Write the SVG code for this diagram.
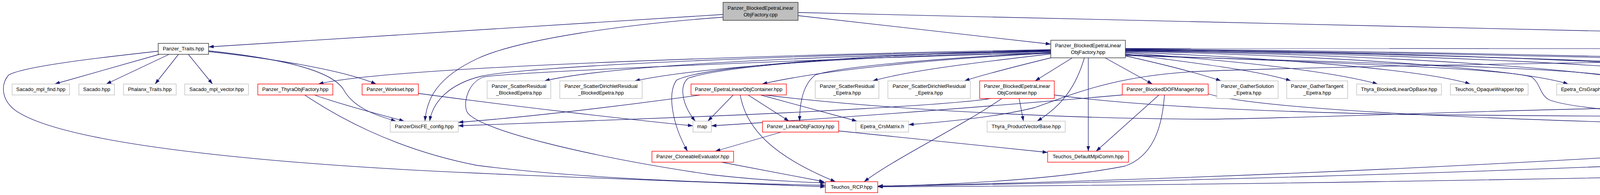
<svg xmlns="http://www.w3.org/2000/svg" width="7378" height="499" viewBox="0 0 7378 499">
<defs>
<marker id="a" markerWidth="13" markerHeight="9" refX="13" refY="4.5" orient="auto" markerUnits="userSpaceOnUse"><path d="M0,0 L13,4.5 L0,9 z" fill="#191970"/></marker>
</defs>
<style>
.n rect{fill:#fff;stroke-width:1.4}
.g rect{stroke:#bfbfbf}
.r rect{stroke:#ff0000}
.k rect{stroke:#333}
.root rect{fill:#bfbfbf;stroke:#333}
text{font-family:"Liberation Sans",Arial,Helvetica,sans-serif;font-size:13px;fill:#000;text-anchor:middle}
text.l{text-anchor:start}
#edges path{fill:none;stroke:#191970;stroke-width:1.3;marker-end:url(#a)}
</style>
<rect x="0" y="0" width="7378" height="499" fill="#fff"/>
<g id="edges">
<path d="M1851,37 L534,120"/>
<path d="M1851,44 C1600,62 1330,100 1222,150 C1122,197 1092,250 1088,310"/>
<path d="M2043,40 L2690,113"/>
<path d="M2043,32 L5936,122"/>
<path d="M408,139 L140,215"/>
<path d="M433,139 L272,215"/>
<path d="M457,139 L397,215"/>
<path d="M482,139 L544,215"/>
<path d="M534,132 C700,150 880,180 963,215"/>
<path d="M534,130 C720,150 850,180 880,230 C905,275 960,295 1014,310"/>
<path d="M405,131 C250,148 60,170 22,192 C2,215 2,255 40,283 C180,380 800,425 1220,443 C1550,458 1900,472 2113,478"/>
<path d="M805,243 C880,270 980,295 1035,310"/>
<path d="M780,243 C850,290 1000,380 1220,423 C1500,460 1900,470 2113,474"/>
<path d="M2690,127 C2000,140 1000,170 815,215"/>
<path d="M2690,130 C2000,140 1350,170 1232,195 C1150,215 1108,260 1100,310"/>
<path d="M2690,135 C2100,150 1300,185 1238,197 C1200,210 1185,260 1195,285 C1215,330 1500,400 1820,447 C1950,462 2050,466 2113,468"/>
<path d="M2690,131 C2000,145 1550,170 1394,207"/>
<path d="M2690,132 C2200,145 1800,170 1625,207"/>
<path d="M2690,128 C2200,140 1850,170 1762,200 C1737,220 1747,270 1780,310"/>
<path d="M2690,129 C2200,140 1800,170 1732,205 C1707,240 1722,320 1760,387"/>
<path d="M2690,136 C2400,150 2100,180 1951,215"/>
<path d="M2690,134 C2400,150 2150,170 2087,192 C2057,215 2047,260 2047,310"/>
<path d="M2690,138 C2500,160 2330,180 2234,207"/>
<path d="M2690,148 C2600,170 2520,190 2469,207"/>
<path d="M2745,148 L2650,207"/>
<path d="M2776,148 C2755,220 2720,270 2655,310"/>
<path d="M2786,148 L2786,387"/>
<path d="M2829,148 L2950,215"/>
<path d="M2881,143 C2980,165 3060,185 3126,207"/>
<path d="M2881,138 C3050,160 3220,180 3305,207"/>
<path d="M2881,135 C3150,155 3400,180 3527,215"/>
<path d="M2881,133 C3300,150 3650,180 3764,215"/>
<path d="M2881,131 C3500,145 3900,180 4015,215"/>
<path d="M2881,130 C3600,140 4100,180 4243,215"/>
<path d="M2881,129 C3700,140 4300,170 4429,207"/>
<path d="M2881,128 C3800,135 4500,170 4608,207"/>
<path d="M2881,127 C3800,140 4600,170 4755,195 C4785,215 4785,260 4740,280 C4700,295 4670,302 4648,310"/>
<path d="M2881,140 C3400,160 3850,175 3921,197 C3945,215 3940,240 3965,255 C4050,290 4450,300 4677,312"/>
<path d="M2881,142 C3500,160 4050,175 4141,197 C4165,215 4155,245 4185,262 C4300,300 4650,305 4815,318"/>
<path d="M2881,126 C4000,140 5200,170 5320,197 C5345,215 5340,260 5278,310"/>
<path d="M2881,125 C4000,135 5250,170 5349,197 C5385,225 5410,270 5419,310"/>
<path d="M2881,124 C4000,126 5000,126 5936,125"/>
<path d="M3093,240 C3200,275 3700,305 4501,322"/>
<path d="M1957,243 C2300,285 2800,305 3100,305 C3500,300 4200,262 4600,280 C4800,290 4900,305 4992,315"/>
<path d="M2699,243 C2900,270 3200,285 3600,293 C4200,300 5000,298 5320,312"/>
<path d="M2873,243 C2500,275 2100,305 1821,322"/>
<path d="M2967,243 L2806,387"/>
<path d="M2981,243 C2975,330 2950,400 2880,425 C2700,460 2450,472 2247,477"/>
<path d="M1071,239 C1300,270 1600,305 1774,322"/>
<path d="M1793,243 C1600,270 1350,300 1173,313"/>
<path d="M1877,243 L1812,310"/>
<path d="M1895,243 C1910,330 1980,400 2139,465"/>
<path d="M1915,243 L2020,310"/>
<path d="M1947,243 L2194,310"/>
<path d="M2536,252 C2450,268 2000,290 1800,298 C1500,308 1300,318 1173,322"/>
<path d="M2565,252 C2450,330 2300,400 2212,465"/>
<path d="M2609,252 L2620,310"/>
<path d="M2000,338 L1831,387"/>
<path d="M2147,335 C2350,355 2550,378 2682,390"/>
<path d="M1847,415 L2110,465"/>
<path d="M5936,140 C5000,145 3500,165 3060,183 C2850,195 2750,240 2650,275 C2550,300 2420,312 2326,319"/>
<path d="M5936,140 C5800,160 5680,185 5608,207"/>
<path d="M5936,136 C5700,150 5450,185 5308,213"/>
<path d="M5936,133 C5600,145 5200,180 5069,207"/>
<path d="M5936,131 C5400,140 5000,160 4870,192 C4830,210 4825,245 4800,265 C4760,290 4700,300 4660,310"/>
<path d="M5969,148 L5793,215"/>
<path d="M6012,148 L5965,215"/>
<path d="M6049,148 L6097,215"/>
<path d="M6097,148 L6285,215"/>
<path d="M6127,138 C6250,160 6400,190 6466,215"/>
<path d="M6127,133 C6350,150 6600,185 6674,207"/>
<path d="M6127,128 C6500,150 6800,180 6910,207"/>
<path d="M6127,126 C6600,140 7050,170 7178,207"/>
<path d="M6127,131 C6400,145 6560,170 6590,197 C6615,220 6610,250 6590,263 C6450,290 5900,310 5537,322"/>
<path d="M6687,252 C6550,285 6200,300 5537,320"/>
<path d="M6127,145 C6180,165 6215,200 6210,235 C6205,255 6190,265 6140,275 C5800,300 5300,305 5108,318"/>
<path d="M4999,252 L5035,310"/>
<path d="M4922,252 L4780,310"/>
<path d="M4955,252 L4888,310"/>
<path d="M4979,252 C4970,300 4950,330 4900,345 C4500,390 3200,460 2247,476"/>
<path d="M5158,260 L5075,310"/>
<path d="M5221,260 L5232,310"/>
<path d="M5116,258 C5050,280 4980,300 4919,315"/>
<path d="M5194,262 C5150,320 5050,390 4900,417 C4700,440 4500,410 4300,418 C3800,440 3000,465 2247,477"/>
<path d="M5397,338 C5300,390 5100,430 4900,437 C4000,460 3000,475 2247,478"/>
</g>
<g id="n_root" class="n root"><rect x="1851" y="6" width="192" height="46"/><text x="1947" y="24.5">Panzer_BlockedEpetraLinear</text><text x="1947" y="41.5">ObjFactory.cpp</text></g>
<g id="n_traits" class="n k"><rect x="405" y="111" width="129" height="28"/><text x="469.5" y="129">Panzer_Traits.hpp</text></g>
<g id="n_belof" class="n k"><rect x="2690" y="103" width="191" height="45"/><text x="2785.5" y="121">Panzer_BlockedEpetraLinear</text><text x="2785.5" y="138">ObjFactory.hpp</text></g>
<g id="n_impl" class="n r"><rect x="5936" y="103" width="191" height="45"/><text x="6031.5" y="121">Panzer_BlockedEpetraLinear</text><text x="6031.5" y="138">ObjFactory_impl.hpp</text></g>
<g id="n_mplfind" class="n g"><rect x="31" y="215" width="147" height="28"/><text x="104.5" y="233">Sacado_mpl_find.hpp</text></g>
<g id="n_sacado" class="n g"><rect x="202" y="215" width="91" height="28"/><text x="247.5" y="233">Sacado.hpp</text></g>
<g id="n_phxtraits" class="n g"><rect x="316" y="215" width="135" height="28"/><text x="383.5" y="233">Phalanx_Traits.hpp</text></g>
<g id="n_mplvector" class="n g"><rect x="473" y="215" width="163" height="28"/><text x="554.5" y="233">Sacado_mpl_vector.hpp</text></g>
<g id="n_thyraobj" class="n r"><rect x="660" y="215" width="192" height="28"/><text x="756" y="233">Panzer_ThyraObjFactory.hpp</text></g>
<g id="n_workset" class="n r"><rect x="927" y="215" width="144" height="28"/><text x="999" y="233">Panzer_Workset.hpp</text></g>
<g id="n_srbe" class="n g"><rect x="1247" y="207" width="163" height="45"/><text x="1328.5" y="225">Panzer_ScatterResidual</text><text x="1328.5" y="242">_BlockedEpetra.hpp</text></g>
<g id="n_sdrbe" class="n g"><rect x="1433" y="207" width="211" height="45"/><text x="1538.5" y="225">Panzer_ScatterDirichletResidual</text><text x="1538.5" y="242">_BlockedEpetra.hpp</text></g>
<g id="n_eloc" class="n r"><rect x="1769" y="215" width="244" height="28"/><text x="1891" y="233">Panzer_EpetraLinearObjContainer.hpp</text></g>
<g id="n_sre" class="n g"><rect x="2087" y="207" width="163" height="45"/><text x="2168.5" y="225">Panzer_ScatterResidual</text><text x="2168.5" y="242">_Epetra.hpp</text></g>
<g id="n_sdre" class="n g"><rect x="2273" y="207" width="211" height="45"/><text x="2378.5" y="225">Panzer_ScatterDirichletResidual</text><text x="2378.5" y="242">_Epetra.hpp</text></g>
<g id="n_beloc" class="n r"><rect x="2508" y="207" width="191" height="45"/><text x="2603.5" y="225">Panzer_BlockedEpetraLinear</text><text x="2603.5" y="242">ObjContainer.hpp</text></g>
<g id="n_bdm" class="n r"><rect x="2873" y="215" width="220" height="28"/><text x="2983" y="233">Panzer_BlockedDOFManager.hpp</text></g>
<g id="n_gse" class="n g"><rect x="3115" y="207" width="157" height="45"/><text x="3193.5" y="225">Panzer_GatherSolution</text><text x="3193.5" y="242">_Epetra.hpp</text></g>
<g id="n_gte" class="n g"><rect x="3294" y="207" width="156" height="45"/><text x="3372" y="225">Panzer_GatherTangent</text><text x="3372" y="242">_Epetra.hpp</text></g>
<g id="n_tblob" class="n g"><rect x="3473" y="215" width="217" height="28"/><text x="3581.5" y="233">Thyra_BlockedLinearOpBase.hpp</text></g>
<g id="n_opaque" class="n g"><rect x="3713" y="215" width="199" height="28"/><text x="3812.5" y="233">Teuchos_OpaqueWrapper.hpp</text></g>
<g id="n_crsgraph" class="n g"><rect x="3985" y="215" width="135" height="28"/><text x="4052.5" y="233">Epetra_CrsGraph.h</text></g>
<g id="n_gorient" class="n g"><rect x="4193" y="215" width="198" height="28"/><text x="4292" y="233">Panzer_GatherOrientation.hpp</text></g>
<g id="n_gsbe" class="n g"><rect x="4414" y="207" width="156" height="45"/><text x="4492" y="225">Panzer_GatherSolution</text><text x="4492" y="242">_BlockedEpetra.hpp</text></g>
<g id="n_gtbe" class="n g"><rect x="4593" y="207" width="156" height="45"/><text x="4671" y="225">Panzer_GatherTangent</text><text x="4671" y="242">_BlockedEpetra.hpp</text></g>
<g id="n_evw" class="n r"><rect x="4874" y="207" width="218" height="45"/><text class="l" x="4885" y="225">Panzer_EpetraVector</text><text class="l" x="4885" y="242">_Write_GlobalEvaluationData.hpp</text></g>
<g id="n_evro" class="n r"><rect x="5116" y="198" width="192" height="62"/><text class="l" x="5127" y="216">Panzer_EpetraVector</text><text class="l" x="5127" y="233">_ReadOnly_GlobalEvaluation</text><text x="5212" y="250">Data.hpp</text></g>
<g id="n_tdblo" class="n g"><rect x="5433" y="207" width="187" height="45"/><text x="5526.5" y="225">Thyra_DefaultBlockedLinear</text><text x="5526.5" y="242">Op.hpp</text></g>
<g id="n_tdpv" class="n g"><rect x="5643" y="215" width="213" height="28"/><text x="5749.5" y="233">Thyra_DefaultProductVector.hpp</text></g>
<g id="n_mpicomm" class="n g"><rect x="5879" y="215" width="139" height="28"/><text x="5948.5" y="233">Epetra_MpiComm.h</text></g>
<g id="n_multivec" class="n g"><rect x="6041" y="215" width="145" height="28"/><text x="6113.5" y="233">Epetra_MultiVector.h</text></g>
<g id="n_vecin" class="n r"><rect x="6260" y="215" width="147" height="28"/><text x="6333.5" y="233">EpetraExt_VectorIn.h</text></g>
<g id="n_vecout" class="n r"><rect x="6430" y="215" width="158" height="28"/><text x="6509" y="233">EpetraExt_VectorOut.h</text></g>
<g id="n_fugi" class="n k"><rect x="6662" y="207" width="199" height="45"/><text x="6761.5" y="225">Panzer_Filtered_UniqueGlobal</text><text x="6761.5" y="242">Indexer.hpp</text></g>
<g id="n_bvro" class="n r"><rect x="6885" y="207" width="245" height="45"/><text class="l" x="6895" y="225">Panzer_BlockedVector</text><text class="l" x="6895" y="242">_ReadOnly_GlobalEvaluationData.hpp</text></g>
<g id="n_bvw" class="n r"><rect x="7153" y="207" width="220" height="45"/><text class="l" x="7165" y="225">Panzer_BlockedVector</text><text class="l" x="7165" y="242">_Write_GlobalEvaluationData.hpp</text></g>
<g id="n_discfe" class="n g"><rect x="999" y="310" width="174" height="28"/><text x="1086" y="328">PanzerDiscFE_config.hpp</text></g>
<g id="n_map" class="n g"><rect x="1774" y="310" width="47" height="28"/><text x="1797.5" y="328">map</text></g>
<g id="n_lof" class="n r"><rect x="1952" y="310" width="195" height="28"/><text x="2049.5" y="328">Panzer_LinearObjFactory.hpp</text></g>
<g id="n_crsmatrix" class="n g"><rect x="2191" y="310" width="135" height="28"/><text x="2258.5" y="328">Epetra_CrsMatrix.h</text></g>
<g id="n_pvb" class="n g"><rect x="2527" y="310" width="200" height="28"/><text x="2627" y="328">Thyra_ProductVectorBase.hpp</text></g>
<g id="n_hash" class="n k"><rect x="4501" y="310" width="154" height="28"/><text x="4578" y="328">Panzer_HashUtils.hpp</text></g>
<g id="n_export" class="n g"><rect x="4677" y="310" width="116" height="28"/><text x="4735" y="328">Epetra_Export.h</text></g>
<g id="n_emap" class="n g"><rect x="4815" y="310" width="104" height="28"/><text x="4867" y="328">Epetra_Map.h</text></g>
<g id="n_evec" class="n g"><rect x="4992" y="310" width="116" height="28"/><text x="5050" y="328">Epetra_Vector.h</text></g>
<g id="n_import" class="n g"><rect x="5181" y="310" width="115" height="28"/><text x="5238.5" y="328">Epetra_Import.h</text></g>
<g id="n_ugi" class="n r"><rect x="5320" y="310" width="217" height="28"/><text x="5428.5" y="328">Panzer_UniqueGlobalIndexer.hpp</text></g>
<g id="n_clone" class="n r"><rect x="1669" y="387" width="209" height="28"/><text x="1773.5" y="405">Panzer_CloneableEvaluator.hpp</text></g>
<g id="n_dmpi" class="n r"><rect x="2682" y="387" width="207" height="28"/><text x="2785.5" y="405">Teuchos_DefaultMpiComm.hpp</text></g>
<g id="n_rcp" class="n r"><rect x="2113" y="465" width="134" height="28"/><text x="2180" y="483">Teuchos_RCP.hpp</text></g>
</svg>
